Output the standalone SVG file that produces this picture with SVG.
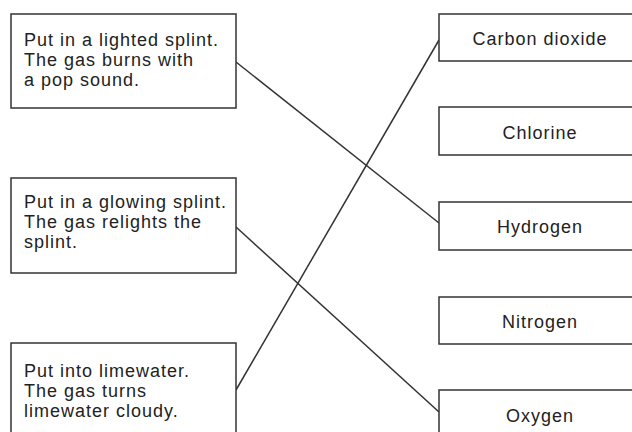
<svg xmlns="http://www.w3.org/2000/svg" width="632" height="432" viewBox="0 0 632 432">
<style>
.box{fill:#fff;stroke:#333;stroke-width:1.5}
.t{font-family:"Liberation Sans",Arial,sans-serif;font-size:18px;fill:#222;letter-spacing:1px}
.c{text-anchor:middle}
.ln{stroke:#333;stroke-width:1.5;fill:none}
</style>
<rect width="632" height="432" fill="#fff"/>
<g id="connectors">
<line class="ln" x1="236" y1="62" x2="439" y2="223"/>
<line class="ln" x1="236" y1="227" x2="439" y2="412"/>
<line class="ln" x1="236" y1="390" x2="439" y2="40"/>
</g>
<g id="test1">
<rect class="box" x="11" y="14" width="225" height="94"/>
<text class="t" x="24" y="46">Put in a lighted splint.</text>
<text class="t" x="24" y="66">The gas burns with</text>
<text class="t" x="24" y="86">a pop sound.</text>
</g>
<g id="test2">
<rect class="box" x="11" y="178" width="225" height="95"/>
<text class="t" x="24" y="208">Put in a glowing splint.</text>
<text class="t" x="24" y="228">The gas relights the</text>
<text class="t" x="24" y="248">splint.</text>
</g>
<g id="test3">
<rect class="box" x="11" y="343" width="225" height="100"/>
<text class="t" x="24" y="377">Put into limewater.</text>
<text class="t" x="24" y="397">The gas turns</text>
<text class="t" x="24" y="417">limewater cloudy.</text>
</g>
<g id="carbon-dioxide">
<rect class="box" x="439" y="14" width="202" height="47"/>
<text class="t c" x="540" y="45">Carbon dioxide</text>
</g>
<g id="chlorine">
<rect class="box" x="439" y="107" width="202" height="48"/>
<text class="t c" x="540" y="139">Chlorine</text>
</g>
<g id="hydrogen">
<rect class="box" x="439" y="202" width="202" height="48"/>
<text class="t c" x="540" y="233">Hydrogen</text>
</g>
<g id="nitrogen">
<rect class="box" x="439" y="297" width="202" height="47"/>
<text class="t c" x="540" y="328">Nitrogen</text>
</g>
<g id="oxygen">
<rect class="box" x="439" y="390" width="202" height="60"/>
<text class="t c" x="540" y="422">Oxygen</text>
</g>
</svg>
